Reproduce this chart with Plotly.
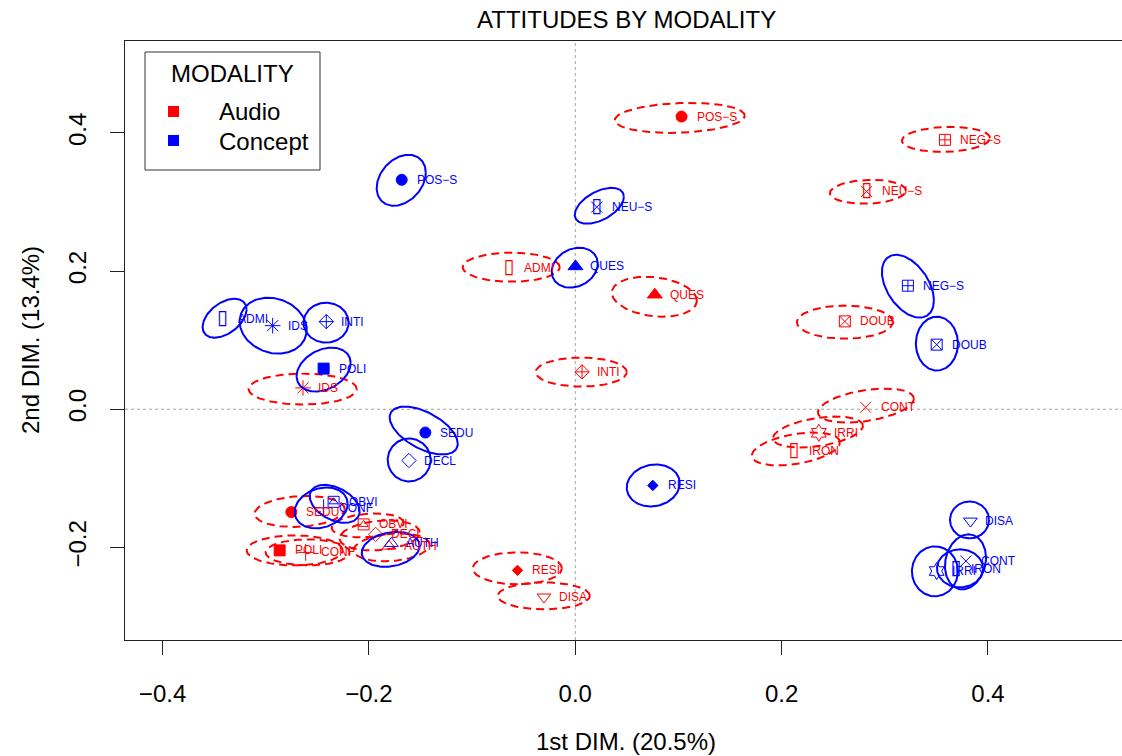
import numpy as np
import plotly.graph_objects as go

# ---- data -----------------------------------------------------------------
categories = ["POS-S", "NEU-S", "NEG-S", "ADMI", "IDS", "INTI", "POLI", "SEDU",
              "DECL", "OBVI", "CONF", "AUTH", "RESI", "DISA", "QUES", "DOUB",
              "CONT", "IRRI", "IRON"]

# category coordinates on the first two dimensions
audio_x = [0.1030, 0.2824, 0.3583, -0.0642, -0.2639, 0.0066, -0.2865, -0.2752,
           -0.1935, -0.2051, -0.2613, -0.1806, -0.0560, -0.0303, 0.0771, 0.2613,
           0.2814, 0.2361, 0.2119]
audio_y = [0.4236, 0.3152, 0.3899, 0.2044, 0.0309, 0.0541, -0.2043, -0.1489,
           -0.1811, -0.1667, -0.2072, -0.1981, -0.2332, -0.2718, 0.1658, 0.1272,
           0.0029, -0.0341, -0.0607]
concept_x = [-0.1682, 0.0208, 0.3224, -0.3418, -0.2933, -0.2413, -0.2439, -0.1453,
             -0.1612, -0.2342, -0.2439, -0.1782, 0.0752, 0.3830, 0.0002, 0.3503,
             0.3786, 0.3503, 0.3690]
concept_y = [0.3321, 0.2926, 0.1788, 0.1311, 0.1210, 0.1268, 0.0588, -0.0337,
             -0.0742, -0.1340, -0.1427, -0.1942, -0.1103, -0.1619, 0.2067, 0.0935,
             -0.2197, -0.2342, -0.2318]

# confidence ellipses: centre, half extents along each axis, correlation
audio_ell_cx = [0.1013, 0.2836, 0.3593, -0.0621, -0.2642, 0.0058, -0.2720, -0.2671,
                -0.1896, -0.2012, -0.2594, -0.1779, -0.0562, -0.0305, 0.0766, 0.2613,
                0.2817, 0.2352, 0.2138]
audio_ell_cy = [0.4217, 0.3147, 0.3906, 0.2056, 0.0292, 0.0538, -0.2043, -0.1479,
                -0.1826, -0.1681, -0.2072, -0.1999, -0.2303, -0.2701, 0.1629, 0.1261,
                0.0053, -0.0330, -0.0575]
audio_ell_sx = [0.0630, 0.0368, 0.0427, 0.0470, 0.0524, 0.0441, 0.0465, 0.0436,
                0.0388, 0.0349, 0.0407, 0.0368, 0.0432, 0.0446, 0.0412, 0.0465,
                0.0465, 0.0436, 0.0427]
audio_ell_sy = [0.0217, 0.0173, 0.0181, 0.0210, 0.0224, 0.0210, 0.0217, 0.0224,
                0.0217, 0.0173, 0.0188, 0.0202, 0.0231, 0.0195, 0.0289, 0.0239,
                0.0246, 0.0224, 0.0239]
audio_ell_rho = [0.15, 0.1, 0.1, 0.0, 0.0, 0.0, 0.0, 0.15, 0.2, 0.2, 0.0, 0.2,
                 0.0, 0.0, -0.2, 0.0, 0.4, 0.4, 0.4]

concept_ell_cx = [-0.1687, 0.0233, 0.3224, -0.3399, -0.2928, -0.2415, -0.2439, -0.1469,
                  -0.1610, -0.2332, -0.2463, -0.1789, 0.0756, 0.3821, -0.0005, 0.3505,
                  0.3782, 0.3486, 0.3729]
concept_ell_cy = [0.3314, 0.2945, 0.1781, 0.1318, 0.1210, 0.1253, 0.0574, -0.0308,
                  -0.0734, -0.1369, -0.1428, -0.2028, -0.1103, -0.1602, 0.2049, 0.0950,
                  -0.2209, -0.2346, -0.2303]
concept_ell_sx = [0.0238, 0.0238, 0.0252, 0.0213, 0.0325, 0.0218, 0.0262, 0.0330,
                  0.0208, 0.0242, 0.0257, 0.0281, 0.0257, 0.0189, 0.0223, 0.0204,
                  0.0199, 0.0223, 0.0223]
concept_ell_sy = [0.0369, 0.0260, 0.0455, 0.0282, 0.0405, 0.0289, 0.0318, 0.0347,
                  0.0311, 0.0275, 0.0296, 0.0253, 0.0304, 0.0267, 0.0289, 0.0390,
                  0.0398, 0.0361, 0.0275]
concept_ell_rho = [0.3, 0.5, -0.45, 0.45, -0.15, 0.0, 0.3, -0.55, 0.0, -0.4, 0.2,
                   0.2, 0.1, 0.0, 0.2, 0.0, 0.15, 0.0, 0.0]

x_ticks = [-0.4, -0.2, 0.0, 0.2, 0.4]
x_tick_labels = ["\u22120.4", "\u22120.2", "0.0", "0.2", "0.4"]
y_ticks = [-0.2, 0.0, 0.2, 0.4]
y_tick_labels = ["\u22120.2", "0.0", "0.2", "0.4"]

modalities = ["Audio", "Concept"]

# ---- styles ---------------------------------------------------------------
RED = "#FF0000"
BLUE = "#0000FF"
FONT = "Liberation Sans, Arial, Helvetica, sans-serif"

# marker symbol per category (None -> drawn as a narrow box glyph)
symbols = {
    "POS-S": ("circle", 11), "NEU-S": ("x-thin-open", 11), "NEG-S": ("square-cross-open", 11),
    "ADMI": (None, 0), "IDS": ("asterisk-open", 13), "INTI": ("diamond-cross-open", 11),
    "POLI": ("square", 11), "SEDU": ("circle", 11), "DECL": ("diamond-open", 11),
    "OBVI": ("square-open", 11), "CONF": ("cross-thin-open", 12),
    "AUTH": ("triangle-up-open", 12), "RESI": ("diamond", 8),
    "DISA": ("triangle-down-open", 12), "QUES": ("triangle-up", 13),
    "DOUB": ("square-x-open", 11), "CONT": ("x-thin-open", 11),
    "IRRI": ("hexagram-open", 13), "IRON": (None, 0),
}
box_glyph = {"ADMI", "IRON", "NEU-S"}

t = np.linspace(0, 2 * np.pi, 181)


def ellipse_path(cxs, cys, sxs, sys_, rhos):
    xs, ys = [], []
    for cx, cy, sx, sy, r in zip(cxs, cys, sxs, sys_, rhos):
        ex = cx + sx * np.cos(t)
        ey = cy + sy * (r * np.cos(t) + np.sqrt(1 - r * r) * np.sin(t))
        xs += list(ex) + [None]
        ys += list(ey) + [None]
    return xs, ys


fig = go.Figure()

groups = [
    (audio_x, audio_y, audio_ell_cx, audio_ell_cy, audio_ell_sx, audio_ell_sy,
     audio_ell_rho, RED, "8px,5px"),
    (concept_x, concept_y, concept_ell_cx, concept_ell_cy, concept_ell_sx,
     concept_ell_sy, concept_ell_rho, BLUE, "solid"),
]

annotations = []

for (px, py, ecx, ecy, esx, esy, erho, col, dash) in groups:
    ex, ey = ellipse_path(ecx, ecy, esx, esy, erho)
    fig.add_trace(go.Scatter(x=ex, y=ey, mode="lines",
                             line=dict(color=col, width=2, dash=dash),
                             hoverinfo="skip", showlegend=False))

    mk_x, mk_y, mk_sym, mk_size = [], [], [], []
    bx, by = [], []
    for cat, x, y in zip(categories, px, py):
        s, sz = symbols[cat]
        if s is not None:
            mk_x.append(x); mk_y.append(y); mk_sym.append(s); mk_size.append(sz)
        if cat in box_glyph:
            bx.append(x); by.append(y)
        annotations.append(dict(x=x, y=y, xref="x", yref="y", text=cat.replace("-", "\u2212"),
                                showarrow=False, xanchor="left", yanchor="middle",
                                xshift=13, font=dict(family=FONT, size=12, color=col)))
    fig.add_trace(go.Scatter(x=mk_x, y=mk_y, mode="markers",
                             marker=dict(symbol=mk_sym, size=mk_size, color=col, opacity=1,
                                         line=dict(color=col, width=1)),
                             showlegend=False, hoverinfo="skip"))
    # narrow box glyphs
    fig.add_trace(go.Scatter(x=bx, y=by, mode="text", text=["\u25AF"] * len(bx),
                             textposition="middle center",
                             textfont=dict(family="DejaVu Sans", size=20, color=col),
                             showlegend=False, hoverinfo="skip"))
    # inner triangle of the boxed-triangle symbol (OBVI)
    i = categories.index("OBVI")
    fig.add_trace(go.Scatter(x=[px[i]], y=[py[i]], mode="markers",
                             marker=dict(symbol="triangle-up-open", size=8, color=col,
                                         opacity=1, line=dict(color=col, width=1)),
                             showlegend=False, hoverinfo="skip"))

# reference lines through the origin
shapes = [
    dict(type="line", xref="x", yref="paper", x0=0, x1=0, y0=0, y1=1,
         line=dict(color="#A0A0A0", width=1, dash="dot"), layer="below"),
    dict(type="line", xref="paper", yref="y", x0=0, x1=1, y0=0, y1=0,
         line=dict(color="#A0A0A0", width=1, dash="dot"), layer="below"),
]

# legend box
W, H, L, B = 997.0, 599.0, 125.0, 640.0


def px_x(p):
    return (p - L) / W


def px_y(p):
    return (B - p) / H


shapes.append(dict(type="rect", xref="paper", yref="paper",
                   x0=px_x(145), x1=px_x(320), y0=px_y(170), y1=px_y(52),
                   line=dict(color="#333333", width=1), fillcolor="white"))
for col, yc in ((RED, 111.5), (BLUE, 140.5)):
    shapes.append(dict(type="rect", xref="paper", yref="paper",
                       x0=px_x(168), x1=px_x(179), y0=px_y(yc + 5.5), y1=px_y(yc - 5.5),
                       line=dict(width=0), fillcolor=col))
annotations.append(dict(x=px_x(232), y=px_y(73), xref="paper", yref="paper",
                        text="MODALITY", showarrow=False, xanchor="center", yanchor="middle",
                        font=dict(family=FONT, size=24, color="black")))
for name, yc in zip(modalities, (111.5, 141.5)):
    annotations.append(dict(x=px_x(217), y=px_y(yc), xref="paper", yref="paper",
                            text=name, showarrow=False, xanchor="left", yanchor="middle",
                            font=dict(family=FONT, size=24, color="black")))

# titles
annotations.append(dict(x=px_x(626), y=px_y(20), xref="paper", yref="paper",
                        text="ATTITUDES BY MODALITY", showarrow=False,
                        xanchor="center", yanchor="middle",
                        font=dict(family=FONT, size=24, color="black")))
annotations.append(dict(x=px_x(626), y=px_y(741), xref="paper", yref="paper",
                        text="1st DIM. (20.5%)", showarrow=False,
                        xanchor="center", yanchor="middle",
                        font=dict(family=FONT, size=24, color="black")))
annotations.append(dict(x=px_x(30), y=px_y(340), xref="paper", yref="paper",
                        text="2nd DIM. (13.4%)", showarrow=False, textangle=-90,
                        xanchor="center", yanchor="middle",
                        font=dict(family=FONT, size=24, color="black")))

axis_common = dict(showgrid=False, zeroline=False, showline=True, mirror=True,
                   linecolor="#222222", linewidth=1, ticks="outside", ticklen=14,
                   tickcolor="#222222", tickwidth=1,
                   tickfont=dict(family=FONT, size=24, color="black"))

fig.update_layout(
    width=1122, height=756,
    margin=dict(l=125, r=0, t=41, b=116),
    paper_bgcolor="white", plot_bgcolor="white",
    showlegend=False,
    xaxis=dict(range=[-0.4364, 0.5299], tickvals=x_ticks, ticktext=x_tick_labels,
               ticklabelstandoff=18, **axis_common),
    yaxis=dict(range=[-0.3340, 0.5330], tickvals=y_ticks, ticktext=y_tick_labels,
               tickangle=-90, ticklabelstandoff=14, **axis_common),
    shapes=shapes,
    annotations=annotations,
)

fig.write_html("out.html")
